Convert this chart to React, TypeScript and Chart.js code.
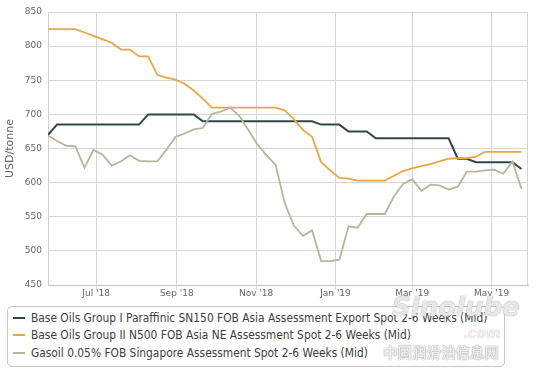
import React, { useEffect, useRef } from 'react';
import { Chart, registerables } from 'chart.js';

Chart.register(...registerables);

const dates = [
  '2018-05-25', '2018-06-01', '2018-06-08', '2018-06-15', '2018-06-22', '2018-06-29',
  '2018-07-06', '2018-07-13', '2018-07-20', '2018-07-27', '2018-08-03', '2018-08-10',
  '2018-08-17', '2018-08-24', '2018-08-31', '2018-09-07', '2018-09-14', '2018-09-21',
  '2018-09-28', '2018-10-05', '2018-10-12', '2018-10-19', '2018-10-26', '2018-11-02',
  '2018-11-09', '2018-11-16', '2018-11-23', '2018-11-30', '2018-12-07', '2018-12-14',
  '2018-12-21', '2018-12-28', '2019-01-04', '2019-01-11', '2019-01-18', '2019-01-25',
  '2019-02-01', '2019-02-08', '2019-02-15', '2019-02-22', '2019-03-01', '2019-03-08',
  '2019-03-15', '2019-03-22', '2019-03-29', '2019-04-05', '2019-04-12', '2019-04-19',
  '2019-04-26', '2019-05-03', '2019-05-10', '2019-05-17', '2019-05-24',
];

const sn150 = [
  670, 685, 685, 685, 685, 685, 685, 685, 685, 685,
  685, 700, 700, 700, 700, 700, 700, 690, 690, 690,
  690, 690, 690, 690, 690, 690, 690, 690, 690, 690,
  685, 685, 685, 675, 675, 675, 665, 665, 665, 665,
  665, 665, 665, 665, 665, 635, 635, 630, 630, 630,
  630, 630, 620,
];

const n500 = [
  825, 825, 825, 825, 820, 815, 810, 805, 795, 795,
  785, 785, 758, 754, 751, 745, 735, 723, 710, 710,
  710, 710, 710, 710, 710, 710, 706, 693, 677, 667,
  630, 618, 607, 606, 603, 603, 603, 603, 610, 617,
  621, 624, 627, 631, 635, 636, 636, 638, 645, 645,
  645, 645, 645,
];

const gasoil = [
  669, 661, 654, 653, 622, 648, 641, 625, 631, 640,
  632, 631, 631, 648, 667, 672, 678, 680, 701, 704,
  710, 698, 677, 656, 640, 626, 570, 537, 522, 530,
  485, 485, 487, 536, 534, 554, 554, 554, 580, 598,
  605, 588, 597, 596, 590, 594, 616, 616, 618, 619,
  613, 631, 591,
];

const seriesNames = [
  'Base Oils Group I Paraffinic SN150 FOB Asia Assessment Export Spot 2-6 Weeks (Mid)',
  'Base Oils Group II N500 FOB Asia NE Assessment Spot 2-6 Weeks (Mid)',
  'Gasoil 0.05% FOB Singapore Assessment Spot 2-6 Weeks (Mid)',
];
const seriesColors = ['#2f4a45', '#e6a845', '#b6b69c'];

const tickDates = ['2018-07-01', '2018-09-01', '2018-11-01', '2019-01-01', '2019-03-01', '2019-05-01'];
const tickLabels = ["Jul '18", "Sep '18", "Nov '18", "Jan '19", "Mar '19", "May '19"];
const xMinDate = '2018-05-25';
const xMaxDate = '2019-05-29';
const yMin = 450;
const yMax = 850;
const yStep = 50;
const yTitle = 'USD/tonne';

const dayNum = (s: string) => {
  const [y, m, d] = s.split('-').map(Number);
  return Date.UTC(y, m - 1, d) / 86400000;
};

const framePlugin = {
  id: 'frame',
  beforeDatasetsDraw(chart: any) {
    const { ctx, chartArea: a } = chart;
    ctx.save();
    ctx.strokeStyle = '#d4d4d4';
    ctx.lineWidth = 1;
    ctx.beginPath();
    const x = Math.round(a.right) - 0.5;
    ctx.moveTo(x, a.top);
    ctx.lineTo(x, a.bottom);
    ctx.stroke();
    ctx.restore();
  },
};

export default function App() {
  const ref = useRef<HTMLCanvasElement>(null);

  useEffect(() => {
    const xs = dates.map(dayNum);
    const mk = (vals: number[]) => vals.map((v, i) => ({ x: xs[i], y: v }));
    const tickFont = { family: 'DejaVu Sans', size: 9 };
    const chart = new Chart(ref.current as HTMLCanvasElement, {
      type: 'line',
      data: {
        datasets: [
          { label: seriesNames[0], data: mk(sn150), borderColor: seriesColors[0], borderWidth: 2, pointRadius: 0, tension: 0, order: 2 },
          { label: seriesNames[1], data: mk(n500), borderColor: seriesColors[1], borderWidth: 1.8, pointRadius: 0, tension: 0, order: 1 },
          { label: seriesNames[2], data: mk(gasoil), borderColor: seriesColors[2], borderWidth: 1.8, pointRadius: 0, tension: 0, order: 0 },
        ],
      },
      options: {
        animation: false,
        responsive: false,
        events: [],
        layout: { padding: { top: 12, right: 17, left: 0, bottom: 0 } },
        plugins: { legend: { display: false }, tooltip: { enabled: false } },
        scales: {
          x: {
            type: 'linear',
            min: dayNum(xMinDate),
            max: dayNum(xMaxDate),
            afterBuildTicks: (s: any) => {
              s.ticks = tickDates.map((d) => ({ value: dayNum(d) }));
            },
            afterFit: (s: any) => {
              s.height = 17;
            },
            ticks: {
              autoSkip: false,
              maxRotation: 0,
              color: '#666',
              font: tickFont,
              padding: -2,
              callback: (v: any) => {
                const i = tickDates.findIndex((d) => dayNum(d) === v);
                return i >= 0 ? tickLabels[i] : '';
              },
            },
            grid: { color: '#d6d6d6', tickLength: 5 },
            border: { color: '#c2c2c2' },
          },
          y: {
            min: yMin,
            max: yMax,
            ticks: { stepSize: yStep, color: '#666', font: tickFont, padding: 6 },
            grid: { color: '#d6d6d6', drawTicks: false },
            border: { color: '#d0d0d0' },
            title: { display: true, text: yTitle, color: '#666', font: { family: 'DejaVu Sans', size: 11 } },
            afterFit: (s: any) => {
              s.width = 48;
            },
          },
        },
      },
      plugins: [framePlugin],
    } as any);
    return () => chart.destroy();
  }, []);

  return (
    <div style={{ position: 'fixed', left: 0, top: 0, width: 545, height: 371, background: '#fff', overflow: 'hidden' }}>
      <canvas ref={ref} width={545} height={302} style={{ position: 'absolute', left: 0, top: 0 }} />
      <div
        style={{
          position: 'absolute', left: 7, top: 306, width: 498, height: 61, boxSizing: 'border-box',
          border: '1px solid #c4c4c4', borderRadius: 5, background: '#fff',
        }}
      >
        {seriesNames.map((name, i) => (
          <div
            key={name}
            style={{ position: 'absolute', left: 0, top: 2 + i * 17.5, height: 17.5, display: 'flex', alignItems: 'center', whiteSpace: 'nowrap' }}
          >
            <span style={{ display: 'inline-block', width: 12, height: 2, background: seriesColors[i], marginLeft: 5, marginRight: 5.7 }} />
            <span
              style={{
                display: 'inline-block', fontFamily: 'DejaVu Sans', fontSize: 12, color: '#3d3d3d',
                transform: 'scaleX(0.888)', transformOrigin: 'left center',
              }}
            >
              {name}
            </span>
          </div>
        ))}
      </div>
      <div style={{ position: 'absolute', left: 392, top: 292, fontFamily: 'DejaVu Sans', fontStyle: 'italic', fontWeight: 'bold', fontSize: 26, color: 'rgba(255,255,255,0.8)', textShadow: '0 0 1px rgba(130,130,130,0.7), 0 0 1px rgba(130,130,130,0.7)', whiteSpace: 'nowrap', pointerEvents: 'none' }}>
        Sinolube
      </div>
      <div style={{ position: 'absolute', left: 463, top: 325, fontFamily: 'DejaVu Serif', fontStyle: 'italic', fontWeight: 'bold', fontSize: 14, color: 'rgba(255,255,255,0.85)', textShadow: '0 0 1px rgba(130,130,130,0.8)', whiteSpace: 'nowrap', pointerEvents: 'none' }}>
        .com
      </div>
      <div style={{ position: 'absolute', left: 383, top: 343, fontFamily: 'Noto Sans CJK SC', fontWeight: 'bold', fontSize: 14.5, lineHeight: '17px', color: 'rgba(255,255,255,0.85)', textShadow: '0 0 1px rgba(130,130,130,0.8), 0 0 1px rgba(130,130,130,0.8)', whiteSpace: 'nowrap', pointerEvents: 'none' }}>
        中国润滑油信息网
      </div>
    </div>
  );
}
